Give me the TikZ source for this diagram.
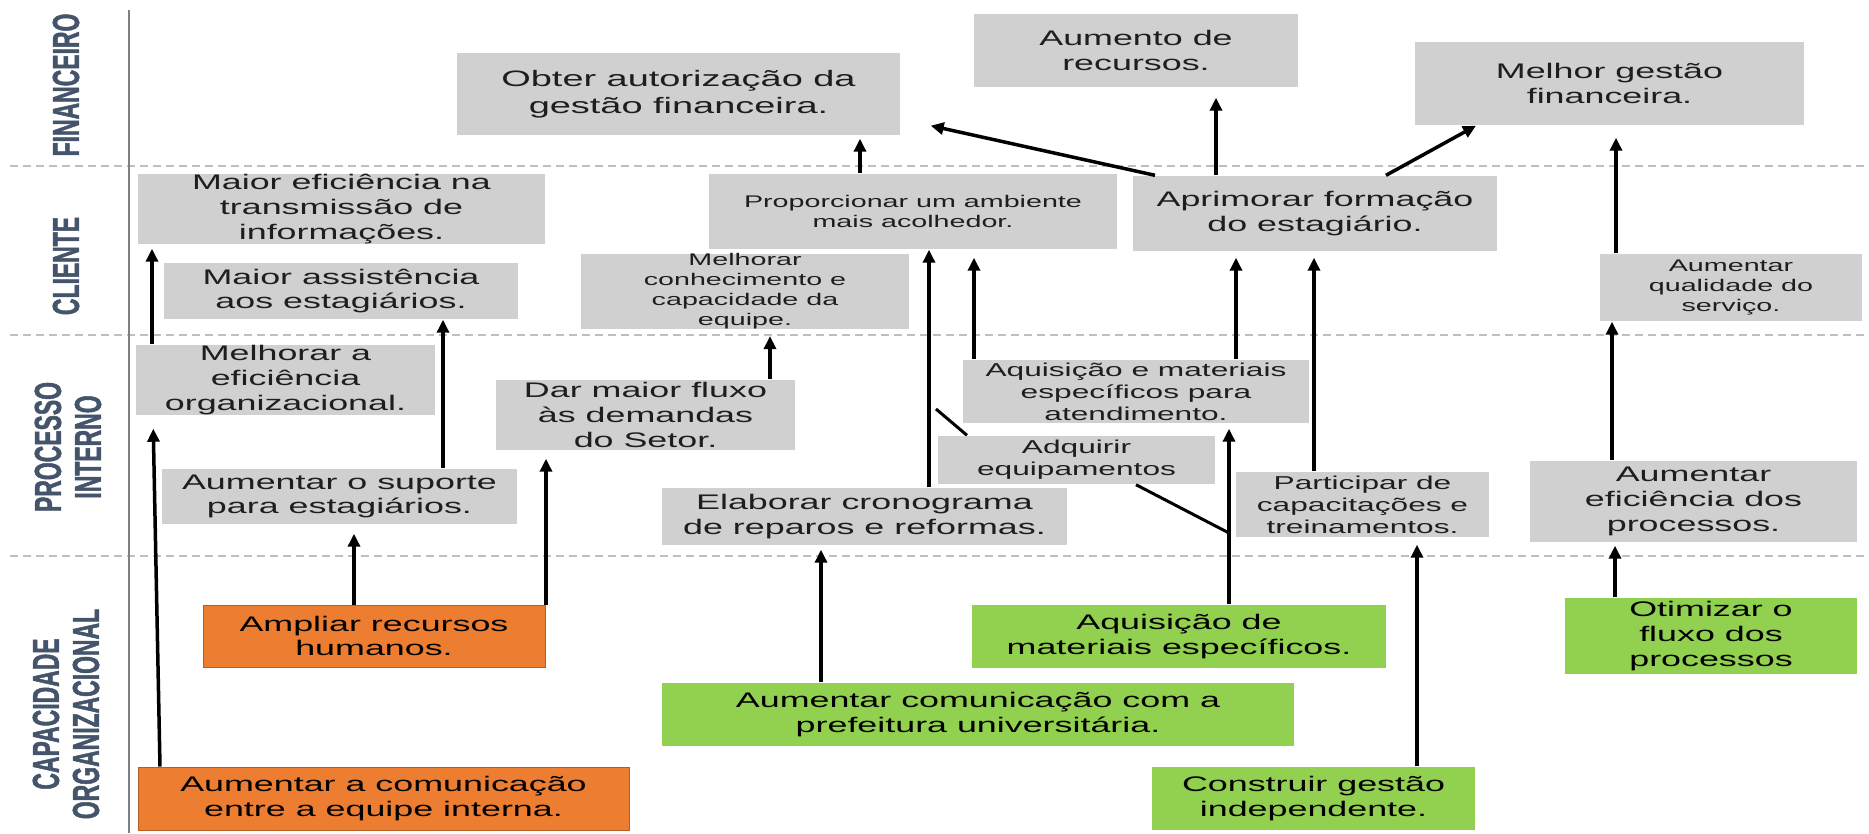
\documentclass[tikz,border=0pt]{standalone}
\usepackage{fontspec}
\setmainfont{Liberation Sans}[FakeStretch=1.7]
\newfontfamily\lblfont{Liberation Sans}[FakeStretch=0.61, BoldFeatures={FakeBold=1.3}]
\definecolor{boxgray}{HTML}{D0D0D0}
\definecolor{boxorange}{HTML}{ED7D31}
\definecolor{boxgreen}{HTML}{92D050}
\definecolor{lblblue}{HTML}{44546A}
\definecolor{sepgray}{HTML}{BFBFBF}
\definecolor{txtdark}{HTML}{1E1E1E}
\newcommand{\fbig}{\fontsize{6.35pt}{7.7pt}\selectfont}
\newcommand{\fnorm}{\fontsize{6pt}{7pt}\selectfont}
\newcommand{\fmid}{\fontsize{5.3pt}{6.25pt}\selectfont}
\newcommand{\fsmall}{\fontsize{4.8pt}{5.7pt}\selectfont}
\usepackage{tikz}
\usetikzlibrary{arrows.meta, calc}

\begin{document}
\begin{tikzpicture}[x=0.1mm, y=-0.1mm,
        gbox/.style={fill=boxgray, text=txtdark, inner sep=0pt, align=center,
                     font=\fnorm},
        obox/.style={gbox, fill=boxorange, draw=boxorange!75!black,
                     line width=0.1mm, text=black},
        vbox/.style={gbox, fill=boxgreen, text=black},
        lbl/.style={rotate=90, align=center, text=lblblue,
                    font=\lblfont\bfseries\fontsize{10.7pt}{11.4pt}\selectfont},
        arr/.style={-{Triangle[length=1.3mm, width=1.2mm]}, line width=0.35mm},
        lnk/.style={line width=0.3mm}
      ]
        \useasboundingbox (0,0) rectangle (1869,833);

        % lanes
        \foreach \yy in {166,335,556}
          \draw[sepgray, line width=0.12mm, dash pattern=on 0.8mm off 0.5mm] (10,\yy) -- (1869,\yy);
        \draw[gray, line width=0.2mm] (129,10) -- (129,833);

        \node[lbl] (fin) at (66,85) {FINANCEIRO};
        \node[lbl] (cli) at (66,266) {CLIENTE};
        \node[lbl] (proc) at (68,447) {PROCESSO\\INTERNO};
        \node[lbl] (cap) at (66,714) {CAPACIDADE\\ORGANIZACIONAL};

        % financeiro
        \node[gbox, font=\fbig, minimum width=44.3mm, minimum height=8.2mm] (obter) at (678.5,94) {Obter autorização da\\gestão financeira.};
        \node[gbox, minimum width=32.4mm, minimum height=7.3mm] (aumento) at (1136,50.5) {Aumento de\\recursos.};
        \node[gbox, minimum width=38.9mm, minimum height=8.3mm] (melhorgestao) at (1609.5,83.5) {Melhor gestão\\financeira.};

        % cliente
        \node[gbox, minimum width=40.7mm, minimum height=7mm] (maioreff) at (341.5,209) {Maior eficiência na\\transmissão de\\informações.};
        \node[gbox, minimum width=35.4mm, minimum height=5.6mm] (maiorassist) at (341,291) {Maior assistência\\aos estagiários.};
        \node[gbox, font=\fsmall, minimum width=40.8mm, minimum height=7.5mm] (proporcionar) at (913,211.5) {Proporcionar um ambiente\\mais acolhedor.};
        \node[gbox, minimum width=36.4mm, minimum height=7.5mm] (aprimorar) at (1315,213.5) {Aprimorar formação\\do estagiário.};
        \node[gbox, font=\fsmall, minimum width=32.8mm, minimum height=7.5mm] (melhorarconh) at (745,291.5) {Melhorar\\conhecimento e\\capacidade da\\equipe.};
        \node[gbox, font=\fsmall, minimum width=26.2mm, minimum height=6.7mm] (qualidade) at (1731,287.5) {Aumentar\\qualidade do\\serviço.};

        % processo interno
        \node[gbox, minimum width=29.9mm, minimum height=7mm] (melhoraref) at (285.5,380) {Melhorar a\\eficiência\\organizacional.};
        \node[gbox, minimum width=29.9mm, minimum height=7mm] (darfluxo) at (645.5,415) {Dar maior fluxo\\às demandas\\do Setor.};
        \node[gbox, font=\fmid, minimum width=34.6mm, minimum height=6.3mm] (aquisicaomat) at (1136,391.5) {Aquisição e materiais\\específicos para\\atendimento.};
        \node[gbox, font=\fmid, minimum width=27.7mm, minimum height=4.8mm] (adquirir) at (1076.5,460) {Adquirir\\equipamentos};
        \node[gbox, minimum width=35.5mm, minimum height=5.5mm] (suporte) at (339.5,496.5) {Aumentar o suporte\\para estagiários.};
        \node[gbox, minimum width=40.5mm, minimum height=5.7mm] (elaborar) at (864.5,516.5) {Elaborar cronograma\\de reparos e reformas.};
        \node[gbox, font=\fmid, minimum width=25.3mm, minimum height=6.5mm] (participar) at (1362.5,504.5) {Participar de\\capacitações e\\treinamentos.};
        \node[gbox, minimum width=32.7mm, minimum height=8.1mm] (eficiencia) at (1693.5,501.5) {Aumentar\\eficiência dos\\processos.};

        % capacidade organizacional
        \node[obox, minimum width=34.2mm, minimum height=6.2mm] (ampliar) at (374,636) {Ampliar recursos\\humanos.};
        \node[obox, minimum width=49.1mm, minimum height=6.3mm] (aumcomint) at (383.5,798.5) {Aumentar a comunicação\\entre a equipe interna.};
        \node[vbox, minimum width=41.4mm, minimum height=6.3mm] (aquisicaode) at (1179,636.5) {Aquisição de\\materiais específicos.};
        \node[vbox, minimum width=63.2mm, minimum height=6.3mm] (aumcompref) at (978,714.5) {Aumentar comunicação com a\\prefeitura universitária.};
        \node[vbox, minimum width=32.3mm, minimum height=6.3mm] (construir) at (1313.5,798.5) {Construir gestão\\independente.};
        \node[vbox, minimum width=29.2mm, minimum height=7.6mm] (otimizar) at (1711,636) {Otimizar o\\fluxo dos\\processos};

        \coordinate (jn1) at (1229,533);
        \coordinate (jn2) at (936,409);

        \draw[arr, shorten >=1.3mm] (aumcomint.north -| 160,0) -- (melhoraref.south -| 153,0);
        \draw[arr, shorten >=0.4mm] (melhoraref.north -| 152,0) -- (maioreff.south -| 152,0);
        \draw[arr] (suporte.north -| 443,0) -- (maiorassist.south -| 443,0);
        \draw[arr, shorten >=0.9mm] (ampliar.north -| 354,0) -- (suporte.south -| 354,0);
        \draw[arr, shorten >=0.8mm] (ampliar.north -| 546,0) -- (darfluxo.south -| 546,0);
        \draw[arr, shorten >=0.6mm] (darfluxo.north -| 770,0) -- (melhorarconh.south -| 770,0);
        \draw[arr, shorten >=0.4mm] (aumcompref.north -| 821,0) -- (elaborar.south -| 821,0);
        \draw[arr] (elaborar.north -| 929,0) -- (proporcionar.south -| 929,0);
        \draw[arr, shorten >=0.8mm] (aquisicaomat.north -| 974,0) -- (proporcionar.south -| 974,0);
        \draw[arr, shorten >=0.6mm] (aquisicaomat.north -| 1236,0) -- (aprimorar.south -| 1236,0);
        \draw[arr, shorten >=0.6mm] (participar.north -| 1314,0) -- (aprimorar.south -| 1314,0);
        \draw[arr, shorten >=0.5mm] (aquisicaode.north -| 1229,0) -- (aquisicaomat.south -| 1229,0);
        \draw[lnk] (adquirir.south -| 1136,0) -- (jn1);
        \draw[lnk] (adquirir.north -| 967,0) -- (jn2);
        \draw[arr] (aprimorar.north -| 1155,0) -- ($(obter.south east)+(30,-10)$);
        \draw[arr, shorten >=1mm] (aprimorar.north -| 1216,0) -- (aumento.south -| 1216,0);
        \draw[arr] (aprimorar.north -| 1386,0) -- (melhorgestao.south -| 1476,0);
        \draw[arr, shorten >=1.2mm] (qualidade.north -| 1616,0) -- (melhorgestao.south -| 1616,0);
        \draw[arr] (eficiencia.north -| 1612,0) -- (qualidade.south -| 1612,0);
        \draw[arr, shorten >=0.3mm] (otimizar.north -| 1615,0) -- (eficiencia.south -| 1615,0);
        \draw[arr, shorten >=0.7mm] (construir.north -| 1417,0) -- (participar.south -| 1417,0);
        \draw[arr, shorten >=0.3mm] (proporcionar.north -| 860,0) -- (obter.south -| 860,0);
      \end{tikzpicture}
\end{document}
